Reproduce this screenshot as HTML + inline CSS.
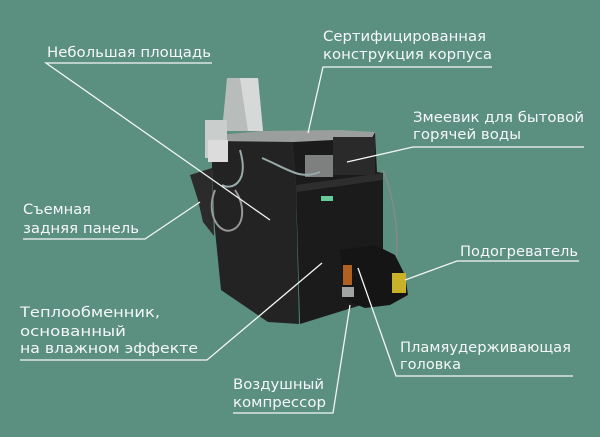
<!DOCTYPE html>
<html><head><meta charset="utf-8"><style>
html,body{margin:0;padding:0;background:#5b8f7f;}
svg{display:block}
text{font-family:"DejaVu Sans","Liberation Sans",sans-serif;font-size:14px;fill:#f4f8f6;}
</style></head><body>
<svg width="600" height="437" viewBox="0 0 600 437" xmlns="http://www.w3.org/2000/svg">
<rect width="600" height="437" fill="#5b8f7f"/>
<!-- boiler -->
<!-- hopper back panel -->
<polygon points="190,175 212,168 214,236 203,222 198,200" fill="#2b2b2b"/>
<!-- left face -->
<polygon points="212,140 292,140 296,185 299,324 268,322 221,290 215,230 212,168" fill="#232323"/>
<!-- front face -->
<polygon points="292,140 375,133 377,172 383,173 383,268 372,300 358,306 300,324 296,185" fill="#1b1b1b"/>
<polygon points="296,185 383,173 383,180 297,192" fill="#2e2e2e"/>
<!-- top -->
<polygon points="208,136 262,131 340,130 375,132 372,138 294,142 212,141" fill="#9a9e9c"/>
<!-- top right box -->
<rect x="333" y="137" width="42" height="38" fill="#2a2a2a"/>
<rect x="305" y="155" width="28" height="22" fill="#7d807f"/>
<!-- chimney -->
<polygon points="227,78 258,78 263,131 222,131" fill="#b8bcba"/>
<polygon points="240,78 258,78 263,131 248,131" fill="#d6d9d8"/>
<!-- fan housing left -->
<rect x="205" y="120" width="22" height="38" fill="#c9cdcb"/>
<rect x="208" y="140" width="20" height="22" fill="#dcdcdc"/>
<!-- cables -->
<path d="M240,150 C250,185 230,190 222,185 M262,158 C290,170 300,180 320,172" stroke="#9aa" stroke-width="2" fill="none"/>
<path d="M215,190 C205,215 220,235 232,230 C245,225 245,205 235,190" stroke="#999" stroke-width="2" fill="none"/>
<path d="M383,170 C395,200 400,240 395,265" stroke="#888" stroke-width="1.5" fill="none"/>
<!-- burner -->
<polygon points="340,250 375,245 395,255 405,275 408,295 390,305 365,308 345,300" fill="#151515"/>
<rect x="392" y="273" width="14" height="20" fill="#c9b22a"/>
<rect x="343" y="265" width="9" height="20" fill="#b06020"/>
<rect x="342" y="287" width="12" height="10" fill="#a0a4a2"/>
<rect x="321" y="196" width="12" height="5" fill="#6c9"/>
<!-- connectors -->
<g stroke="#f2f6f4" stroke-width="1.3" fill="none">
<polyline points="212,63 46,63 270,220"/>
<polyline points="23,239 145,239 200,202"/>
<polyline points="492,67 323,67 308,133"/>
<polyline points="584,147 413,147 347,162"/>
<polyline points="579,261 457,261 405,280"/>
<polyline points="573,376 396,376 358,268"/>
<polyline points="233,413 333,413 350,305"/>
<polyline points="20,360 207,360 322,263"/>
</g>
<!-- labels -->
<text x="47" y="57" textLength="164" lengthAdjust="spacingAndGlyphs">Небольшая площадь</text>
<text x="323" y="41" textLength="163" lengthAdjust="spacingAndGlyphs">Сертифицированная</text>
<text x="323" y="59" textLength="169" lengthAdjust="spacingAndGlyphs">конструкция корпуса</text>
<text x="413" y="122" textLength="171" lengthAdjust="spacingAndGlyphs">Змеевик для бытовой</text>
<text x="413" y="139" textLength="108" lengthAdjust="spacingAndGlyphs">горячей воды</text>
<text x="23" y="214" textLength="68" lengthAdjust="spacingAndGlyphs">Съемная</text>
<text x="23" y="233" textLength="116" lengthAdjust="spacingAndGlyphs">задняя панель</text>
<text x="460" y="256" textLength="118" lengthAdjust="spacingAndGlyphs">Подогреватель</text>
<text x="20" y="317" textLength="140" lengthAdjust="spacingAndGlyphs">Теплообменник,</text>
<text x="20" y="336" textLength="106" lengthAdjust="spacingAndGlyphs">основанный</text>
<text x="20" y="353" textLength="178" lengthAdjust="spacingAndGlyphs">на влажном эффекте</text>
<text x="400" y="352" textLength="171" lengthAdjust="spacingAndGlyphs">Пламяудерживающая</text>
<text x="400" y="369" textLength="61" lengthAdjust="spacingAndGlyphs">головка</text>
<text x="233" y="389" textLength="91" lengthAdjust="spacingAndGlyphs">Воздушный</text>
<text x="233" y="407" textLength="93" lengthAdjust="spacingAndGlyphs">компрессор</text>
</svg>
</body></html>
